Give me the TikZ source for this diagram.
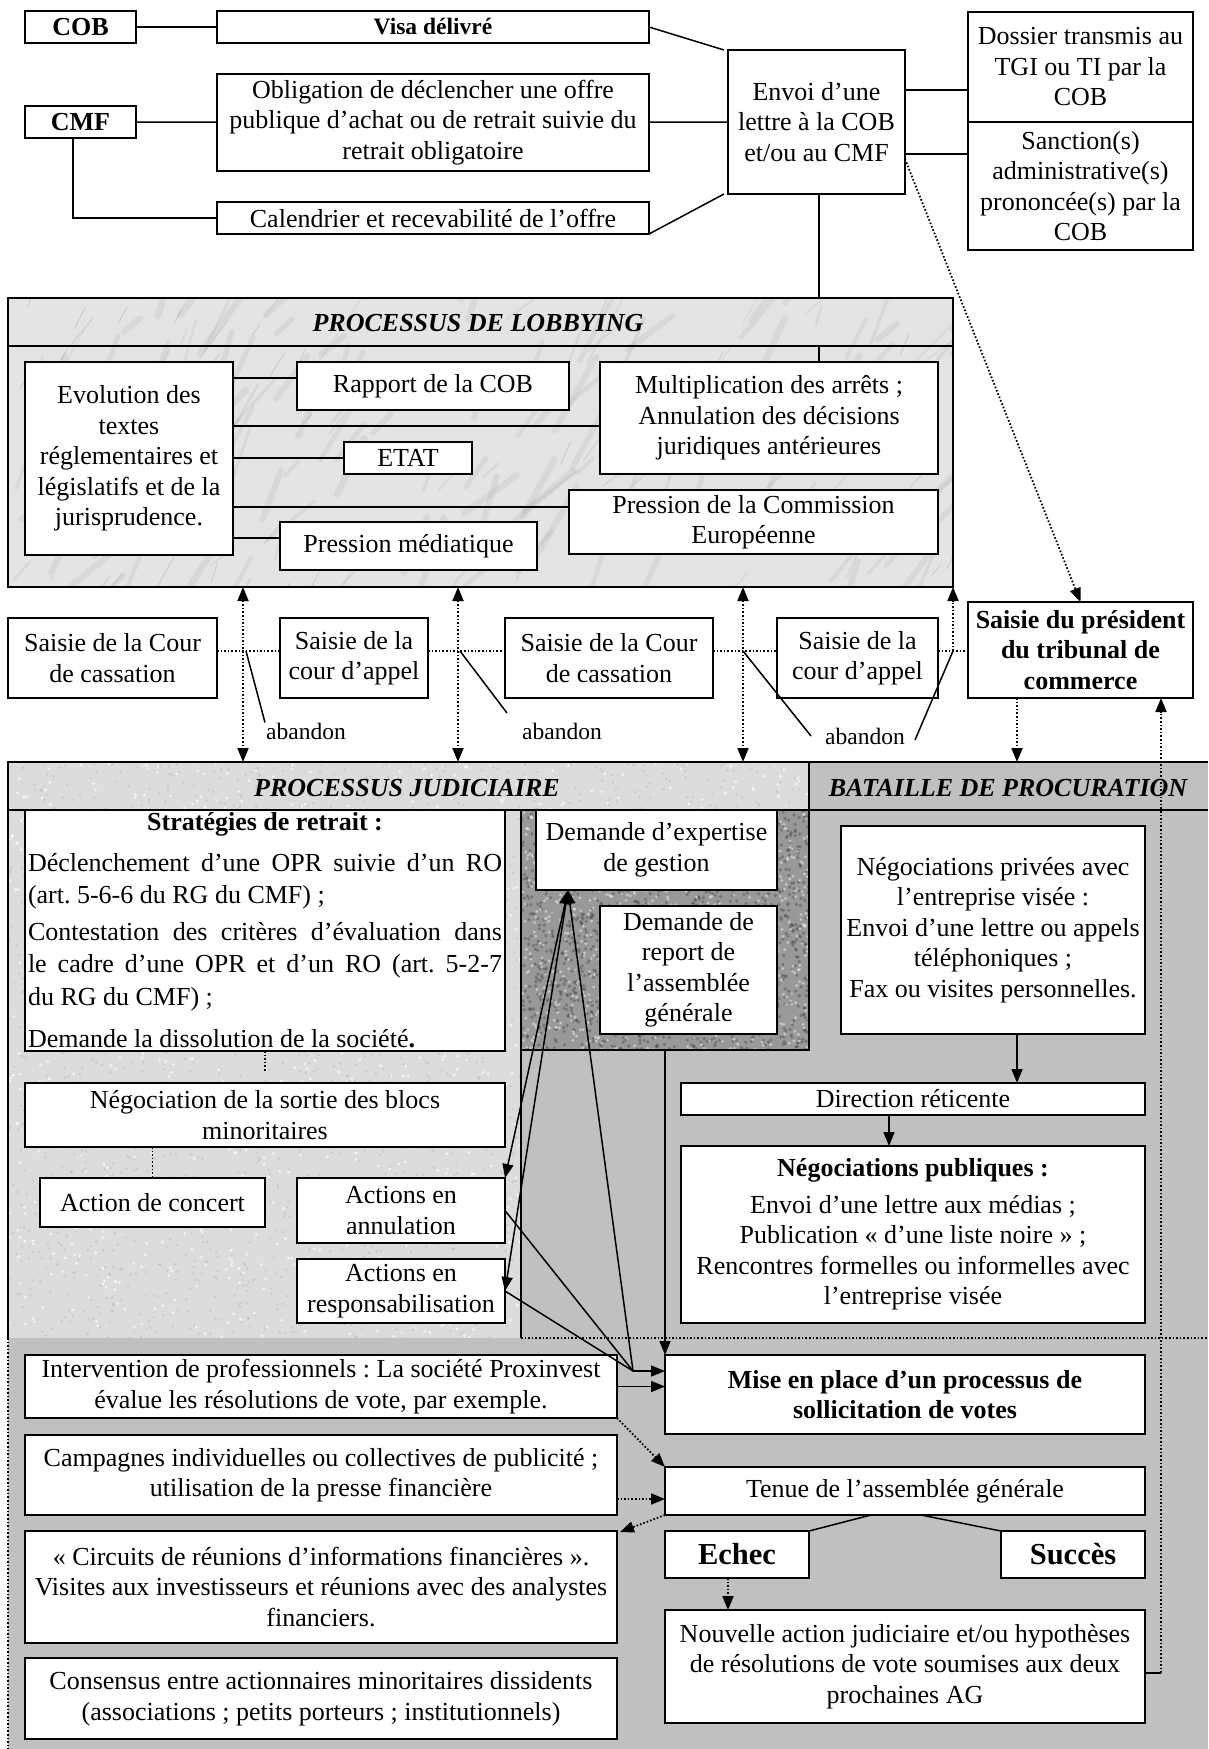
\documentclass[tikz,border=0pt]{standalone}
\usepackage{fontspec}
\setmainfont{Liberation Serif}
\usetikzlibrary{arrows.meta,calc}
\definecolor{lobfill}{HTML}{E4E4E4}
\definecolor{judfill}{HTML}{DCDCDC}
\definecolor{darkfill}{HTML}{999999}
\definecolor{batfill}{HTML}{C0C0C0}
\frenchspacing
\newcommand\fs{\fontsize{26}{30.5}\selectfont}
\newcommand\bx[7]{%
 \pgfmathsetmacro\bxw{#4-#2}\pgfmathsetmacro\bxh{#5-#3}%
 \node[box,minimum width=\bxw pt,minimum height=\bxh pt,anchor=north west,#6] (#1) at (#2,#3) {#7};}
\begin{document}
\begin{tikzpicture}[x=1pt,y=-1pt,
  box/.style={draw,line width=1.8pt,fill=white,inner sep=3pt,outer sep=0pt,align=center,font=\fs},
  frame/.style={line width=1.8pt},
  conn/.style={line width=1.5pt},
  dotconn/.style={line width=1.8pt,dash pattern=on 1.6pt off 2pt},
  arr/.style={-{Triangle[length=14pt,width=11pt]}},
  darr/.style={{Triangle[length=14pt,width=11pt]}-{Triangle[length=14pt,width=11pt]}},
  titlet/.style={font=\fontsize{26}{30}\selectfont\bfseries\itshape,inner sep=0pt},
  lab/.style={font=\fontsize{23.5}{27}\selectfont,inner sep=0pt}]
\useasboundingbox (0,0) rectangle (1208,1749);
\fill[white] (0,0) rectangle (1208,1749);
\pgfmathsetseed{4242}
% ---------- backgrounds ----------
\fill[lobfill] (8,298) rectangle (953,587);
\begin{scope}
\clip (8,298) rectangle (953,587);
\foreach \i in {1,...,160}{%
  \pgfmathsetmacro\rx{8+945*rnd}\pgfmathsetmacro\ry{298+320*rnd}%
  \pgfmathsetmacro\ra{-35-40*rnd}\pgfmathsetmacro\rl{20+70*rnd}%
  \pgfmathsetmacro\rw{1+6*rnd}%
  \draw[gray!70,opacity=0.18,line width=\rw pt,line cap=round] (\rx,\ry) -- ++(\ra:\rl);}
\foreach \i in {1,...,50}{%
  \pgfmathsetmacro\rx{8+945*rnd}\pgfmathsetmacro\ry{298+320*rnd}%
  \pgfmathsetmacro\ra{-45-30*rnd}\pgfmathsetmacro\rl{10+30*rnd}%
  \draw[gray!80,opacity=0.3,line width=1pt,line cap=round] (\rx,\ry) -- ++(\ra:\rl);}
\end{scope}
\draw[frame] (8,298) rectangle (953,587);
\draw[frame] (8,346) -- (953,346);
\fill[judfill] (8,762) rectangle (521,1338);
\fill[judfill] (521,762) rectangle (809,810);
\begin{scope}
\clip (8,762) rectangle (809,810) (8,810) rectangle (521,1338);
\foreach \i in {1,...,2600}{%
  \pgfmathsetmacro\rx{8+801*rnd}\pgfmathsetmacro\ry{762+576*rnd}%
  \fill[gray!70,opacity=0.35] (\rx,\ry) circle (1.3pt);}
\foreach \i in {1,...,1200}{%
  \pgfmathsetmacro\rx{8+801*rnd}\pgfmathsetmacro\ry{762+576*rnd}%
  \fill[white,opacity=0.7] (\rx,\ry) circle (1.6pt);}
\end{scope}
\fill[darkfill] (521,810) rectangle (809,1050);
\begin{scope}
\clip (521,810) rectangle (809,1050);
\foreach \i in {1,...,1600}{%
  \pgfmathsetmacro\rx{521+288*rnd}\pgfmathsetmacro\ry{810+240*rnd}%
  \fill[black!80,opacity=0.35] (\rx,\ry) circle (1.8pt);}
\foreach \i in {1,...,900}{%
  \pgfmathsetmacro\rx{521+288*rnd}\pgfmathsetmacro\ry{810+240*rnd}%
  \fill[white,opacity=0.45] (\rx,\ry) circle (1.6pt);}
\end{scope}
\fill[batfill] (809,762) rectangle (1208,1338);
\fill[batfill] (521,1050) rectangle (809,1338);
\fill[batfill] (8,1338) rectangle (1208,1749);
\draw[frame] (1208,762) -- (8,762) -- (8,1338);
\draw[frame] (8,810) -- (1208,810);
\draw[frame] (809,762) -- (809,1050) -- (521,1050);
\draw[frame] (521,810) -- (521,1338);
\draw[dotconn] (521,1338) -- (1208,1338);
\draw[dotconn] (8,1338) -- (8,1749);
\node[titlet] (lobt) at (478,323) {PROCESSUS DE LOBBYING};
\node[titlet] (judt) at (407,788) {PROCESSUS JUDICIAIRE};
\node[titlet] (batt) at (1008,788) {BATAILLE DE PROCURATION};
% ---------- top ----------
\bx{cob}{25}{11}{136}{43}{font=\fs\bfseries}{COB}
\bx{visa}{217}{11}{649}{43}{font=\fontsize{23.5}{27}\selectfont\bfseries}{Visa délivré}
\bx{cmf}{25}{106}{136}{138}{font=\fs\bfseries}{CMF}
\bx{oblig}{217}{74}{649}{171}{}{Obligation de déclencher une offre\\publique d’achat ou de retrait suivie du\\retrait obligatoire}
\bx{cal}{217}{202}{649}{234}{}{Calendrier et recevabilité de l’offre}
\bx{envoi}{728}{50}{905}{194}{}{Envoi d’une\\lettre à la COB\\et/ou au CMF}
\bx{dossier}{968}{12}{1193}{122}{}{Dossier transmis au\\TGI ou TI par la\\COB}
\bx{sanction}{968}{122}{1193}{250}{}{Sanction(s)\\administrative(s)\\prononcée(s) par la\\COB}
% ---------- lobbying ----------
\bx{evol}{25}{362}{233}{555}{}{Evolution des\\textes\\réglementaires et\\législatifs et de la\\jurisprudence.}
\bx{rapport}{297}{362}{569}{410}{}{Rapport de la COB}
\bx{etat}{344}{442}{472}{474}{}{ETAT}
\bx{mult}{600}{362}{938}{474}{}{Multiplication des arrêts ;\\Annulation des décisions\\juridiques antérieures}
\bx{comm}{569}{490}{938}{554}{}{Pression de la Commission\\Européenne}
\bx{media}{280}{522}{537}{570}{}{Pression médiatique}
% ---------- saisies ----------
\bx{sc1}{8}{618}{217}{698}{}{Saisie de la Cour\\de cassation}
\bx{sa1}{280}{618}{428}{698}{}{Saisie de la\\cour d’appel}
\bx{sc2}{505}{618}{713}{698}{}{Saisie de la Cour\\de cassation}
\bx{sa2}{777}{618}{938}{698}{}{Saisie de la\\cour d’appel}
\bx{pres}{968}{602}{1193}{698}{font=\fs\bfseries}{Saisie du président\\du tribunal de\\commerce}
\node[lab] (ab1) at (306,731) {abandon};
\node[lab] (ab2) at (562,731) {abandon};
\node[lab] (ab3) at (865,736) {abandon};
% ---------- judiciaire ----------
\bx{strat}{25}{810}{505}{1051}{align=justify,text width=474pt,inner xsep=2pt,inner ysep=2pt,font=\fontsize{26}{32.5}\selectfont}{\noindent\makebox[\linewidth]{\bfseries Stratégies de retrait :}\\[8pt]
Déclenchement d’une OPR suivie d’un RO\linebreak (art. 5-6-6 du RG du CMF) ;\\[4pt]
Contestation des critères d’évaluation dans\linebreak le cadre d’une OPR et d’un RO (art. 5-2-7\linebreak du RG du CMF) ;\\[10pt]
Demande la dissolution de la société\textbf{.}}
\bx{nego}{25}{1083}{505}{1147}{}{Négociation de la sortie des blocs\\minoritaires}
\bx{concert}{40}{1178}{265}{1227}{}{Action de concert}
\bx{annul}{297}{1178}{505}{1243}{}{Actions en\\annulation}
\bx{resp}{297}{1259}{505}{1323}{}{Actions en\\responsabilisation}
\bx{expert}{536}{810}{777}{890}{}{Demande d’expertise\\de gestion}
\bx{report}{600}{906}{777}{1034}{}{Demande de\\report de\\l’assemblée\\générale}
% ---------- bataille ----------
\bx{priv}{841}{826}{1145}{1034}{}{Négociations privées avec\\l’entreprise visée :\\Envoi d’une lettre ou appels\\téléphoniques ;\\Fax ou visites personnelles.}
\bx{dir}{681}{1083}{1145}{1115}{}{Direction réticente}
\bx{pub}{681}{1146}{1145}{1323}{}{\textbf{Négociations publiques :}\\[6pt]Envoi d’une lettre aux médias ;\\Publication « d’une liste noire » ;\\Rencontres formelles ou informelles avec\\l’entreprise visée}
% ---------- bottom ----------
\bx{interv}{25}{1355}{617}{1418}{}{Intervention de professionnels : La société Proxinvest\\évalue les résolutions de vote, par exemple.}
\bx{mise}{665}{1355}{1145}{1434}{font=\fs\bfseries}{Mise en place d’un processus de\\sollicitation de votes}
\bx{camp}{25}{1435}{617}{1515}{}{Campagnes individuelles ou collectives de publicité ;\\utilisation de la presse financière}
\bx{tenue}{665}{1467}{1145}{1515}{}{Tenue de l’assemblée générale}
\bx{circ}{25}{1531}{617}{1643}{}{« Circuits de réunions d’informations financières ».\\Visites aux investisseurs et réunions avec des analystes\\financiers.}
\bx{echec}{665}{1531}{809}{1578}{font=\fontsize{30.5}{34}\selectfont\bfseries}{Echec}
\bx{succes}{1001}{1531}{1145}{1578}{font=\fontsize{30.5}{34}\selectfont\bfseries}{Succès}
\bx{nouv}{665}{1610}{1145}{1723}{}{Nouvelle action judiciaire et/ou hypothèses\\de résolutions de vote soumises aux deux\\prochaines AG}
\bx{cons}{25}{1658}{617}{1739}{}{Consensus entre actionnaires minoritaires dissidents\\(associations ; petits porteurs ; institutionnels)}
% ---------- connectors top ----------
\draw[conn] (cob) -- (visa);
\draw[conn] (cmf) -- (oblig);
\draw[conn] (cmf.south -| 73,0) |- (cal.west);
\draw[conn] (visa.east) -- ([xshift=-4pt]envoi.north west);
\draw[conn] (oblig) -- (envoi);
\draw[conn] (cal.south east) -- ([xshift=-4pt]envoi.south west);
\draw[conn] (envoi.east |- 0,90) -- (dossier.west |- 0,90);
\draw[conn] (envoi.east |- 0,154) -- (sanction.west |- 0,154);
\coordinate (lobtop) at (819,298);
\coordinate (lobhead) at (819,346);
\draw[conn] (envoi.south -| lobtop) -- (lobtop);
\draw[conn] (lobhead) -- (mult.north -| lobhead);
\draw[dotconn,arr] (envoi.east |- 0,159) -- (pres.north);
% lobbying
\draw[conn] (evol.east |- 0,378) -- (rapport.west |- 0,378);
\draw[conn] (evol.east |- 0,426) -- (mult.west |- 0,426);
\draw[conn] (evol.east |- 0,458) -- (etat.west |- 0,458);
\draw[conn] (evol.east |- 0,507) -- (comm.west |- 0,507);
\draw[conn] (evol.east |- 0,538) -- (media.west |- 0,538);
% saisies
\draw[dotconn] (sc1.east |- 0,651) -- (sa1.west |- 0,651);
\draw[dotconn] (sa1.east |- 0,651) -- (sc2.west |- 0,651);
\draw[dotconn] (sc2.east |- 0,651) -- (sa2.west |- 0,651);
\draw[dotconn] (sa2.east |- 0,651) -- (pres.west |- 0,651);
\coordinate (v1t) at (243,587); \coordinate (v1b) at (243,762);
\coordinate (v2t) at (458,587); \coordinate (v2b) at (458,762);
\coordinate (v3t) at (743,587); \coordinate (v3b) at (743,762);
\coordinate (v4t) at (953,587); \coordinate (v4b) at (953,651);
\draw[dotconn,darr] (v1t) -- (v1b);
\draw[dotconn,darr] (v2t) -- (v2b);
\draw[dotconn,darr] (v3t) -- (v3b);
\draw[dotconn,arr] (v4b) -- (v4t);
\coordinate (j1) at (246,651); \coordinate (j2) at (460,651);
\coordinate (j3) at (743,651); \coordinate (j4) at (953,651);
\draw[conn] (j1) -- ([xshift=-1pt]ab1.north west);
\draw[conn] (j2) -- ([shift={(-15pt,18pt)}]ab2.west);
\draw[conn] (j3) -- ([xshift=-14pt]ab3.west);
\draw[conn] (j4) -- ([shift={(10pt,-4pt)}]ab3.east);
\coordinate (pb) at (1017,762);
\draw[dotconn,arr] (pres.south -| pb) -- (pb);
\coordinate (nr) at (1161,1673);
\draw[conn] (nouv.east |- nr) -- (nr);
\draw[dotconn,arr] (nr) -- (pres.south -| nr);
% judiciaire
\draw[dotconn] (strat.south) -- ([yshift=11pt]nego.north);
\draw[dotconn] (nego.south -| concert.north) -- (concert.north);
\coordinate (ex) at (568,890);
\coordinate (conv) at (633,1371);
\draw[conn,darr] (ex) -- (annul.north east);
\draw[conn,darr] (ex) -- (resp.east);
\draw[conn,arr] (conv) -- (ex);
\draw[conn] (annul.east) -- (conv);
\draw[conn] (resp.east) -- (conv);
\draw[conn,arr] (conv) -- (conv -| mise.west);
\draw[conn,arr] (interv.east) -- (interv.east -| mise.west);
\coordinate (dk) at (665,1050);
\draw[conn,arr] (dk) -- (mise.north west);
% bataille
\draw[conn,arr] (priv.south -| pb) -- (dir.north -| pb);
\draw[conn,arr] (dir.south -| 889,0) -- (pub.north -| 889,0);
% bottom
\draw[dotconn,arr] (interv.south east) -- (tenue.north west);
\draw[dotconn,arr] (camp.east |- 0,1499) -- (tenue.west |- 0,1499);
\draw[dotconn,arr] (tenue.south west) -- ([shift={(3pt,-1pt)}]circ.north east);
\draw[conn] (tenue.south -| 871,0) -- (echec.north east);
\draw[conn] (tenue.south -| 921,0) -- (succes.north west);
\draw[dotconn,arr] (echec.south -| 728,0) -- (nouv.north -| 728,0);
\end{tikzpicture}
\end{document}
